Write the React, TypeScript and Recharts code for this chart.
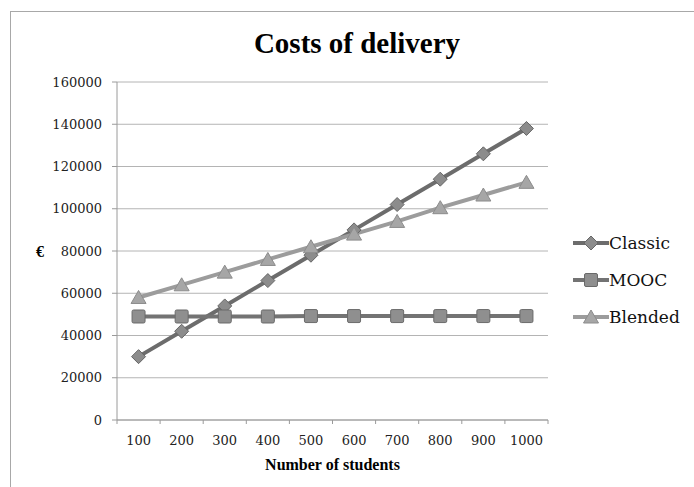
import { LineChart, Line, XAxis, YAxis, CartesianGrid, Legend } from 'recharts';

const students = ['100', '200', '300', '400', '500', '600', '700', '800', '900', '1000'];
const classic = [30000, 42000, 54000, 66000, 78000, 90000, 102000, 114000, 126000, 138000];
const mooc = [49000, 49000, 49000, 49000, 49200, 49200, 49200, 49200, 49200, 49200];
const blended = [58000, 64000, 70000, 76000, 82000, 88000, 94000, 100500, 106500, 112500];
const yTicks = [0, 20000, 40000, 60000, 80000, 100000, 120000, 140000, 160000];

const data = students.map((s, i) => ({
  students: s,
  Classic: classic[i],
  MOOC: mooc[i],
  Blended: blended[i],
}));

const BOLD_FONT = '"Liberation Serif", "Times New Roman", serif';
const FONT = '"DejaVu Serif", serif';
const AXIS = '#9a9a9a';
const BAND = 431 / students.length;

const series = [
  { key: 'Classic', stroke: '#6c6c6c', fill: '#8c8c8c', edge: '#666666', shape: 'diamond' },
  { key: 'MOOC', stroke: '#737373', fill: '#8f8f8f', edge: '#6a6a6a', shape: 'square' },
  { key: 'Blended', stroke: '#9c9c9c', fill: '#a6a6a6', edge: '#8c8c8c', shape: 'triangle' },
];

function Marker({ cx, cy, shape, fill, edge }: any) {
  if (cx == null || cy == null) return null;
  if (shape === 'diamond') {
    return (
      <polygon
        points={`${cx},${cy - 7} ${cx + 7},${cy} ${cx},${cy + 7} ${cx - 7},${cy}`}
        fill={fill}
        stroke={edge}
        strokeWidth={1}
      />
    );
  }
  if (shape === 'square') {
    return <rect x={cx - 6.5} y={cy - 6.5} width={13} height={13} rx={1.5} fill={fill} stroke={edge} strokeWidth={1} />;
  }
  return (
    <polygon
      points={`${cx},${cy - 7} ${cx + 7.5},${cy + 6} ${cx - 7.5},${cy + 6}`}
      fill={fill}
      stroke={edge}
      strokeWidth={1}
    />
  );
}

function XTick({ x, y, payload, index }: any) {
  const last = index === students.length - 1;
  return (
    <g>
      <line x1={x - BAND / 2} y1={y} x2={x - BAND / 2} y2={y + 4} stroke={AXIS} />
      {last && <line x1={x + BAND / 2} y1={y} x2={x + BAND / 2} y2={y + 4} stroke={AXIS} />}
      <text x={x} y={y + 25} textAnchor="middle" fontFamily={FONT} fontSize={13} fill="#222">
        {payload.value}
      </text>
    </g>
  );
}

function LegendBox() {
  return (
    <div style={{ fontFamily: FONT, fontSize: 17, color: '#111' }}>
      {series.map(s => (
        <div key={s.key} style={{ display: 'flex', alignItems: 'center', height: 37 }}>
          <svg width={36} height={16}>
            <line x1={0} y1={8} x2={36} y2={8} stroke={s.stroke} strokeWidth={4} strokeLinecap="round" />
            <Marker cx={18} cy={8} shape={s.shape} fill={s.fill} edge={s.edge} />
          </svg>
          <span>{s.key}</span>
        </div>
      ))}
    </div>
  );
}

export default function App() {
  return (
    <div style={{ position: 'absolute', left: 0, top: 0, width: 694, height: 487, background: '#fff', overflow: 'hidden' }}>
      <div
        style={{
          position: 'absolute',
          left: 10,
          top: 11,
          width: 720,
          height: 520,
          border: '1px solid #a8a8a8',
        }}
      />
      <div
        style={{
          position: 'absolute',
          left: 357,
          top: 29,
          transform: 'translateX(-50%)',
          fontFamily: BOLD_FONT,
          fontWeight: 'bold',
          fontSize: 29,
          lineHeight: '29px',
          whiteSpace: 'nowrap',
          color: '#000',
        }}
      >
        Costs of delivery
      </div>
      <LineChart
        width={694}
        height={487}
        data={data}
        margin={{ top: 82, right: 146, bottom: 0, left: 0 }}
        style={{ position: 'absolute', left: 0, top: 0 }}
      >
        <CartesianGrid vertical={false} stroke="#b4b4b4" />
        <XAxis
          dataKey="students"
          height={67}
          interval={0}
          padding={{ left: BAND / 2, right: BAND / 2 }}
          tickSize={0}
          tickMargin={0}
          tickLine={false}
          axisLine={{ stroke: AXIS }}
          tick={<XTick />}
          label={{
            value: 'Number of students',
            position: 'insideBottom',
            offset: 17,
            style: { fontFamily: BOLD_FONT, fontWeight: 'bold', fontSize: 16, fill: '#000' },
          }}
        />
        <YAxis
          width={117}
          domain={[0, 160000]}
          ticks={yTicks}
          interval={0}
          tickSize={5}
          tickMargin={10}
          axisLine={{ stroke: AXIS }}
          tickLine={{ stroke: AXIS }}
          tick={{ fontFamily: FONT, fontSize: 13, fill: '#222' }}
          label={{
            value: '€',
            position: 'insideLeft',
            offset: 36,
            style: { fontFamily: BOLD_FONT, fontWeight: 'bold', fontSize: 16, fill: '#000' },
          }}
        />
        {series.map(s => (
          <Line
            key={s.key}
            dataKey={s.key}
            type="linear"
            stroke={s.stroke}
            strokeWidth={4}
            isAnimationActive={false}
            activeDot={false}
            dot={(p: any) => <Marker key={`${s.key}-${p.index}`} cx={p.cx} cy={p.cy} shape={s.shape} fill={s.fill} edge={s.edge} />}
          />
        ))}
        <Legend
          layout="horizontal"
          verticalAlign="middle"
          align="center"
          content={<LegendBox />}
          wrapperStyle={{ position: 'absolute', left: 573, top: 224, width: 121 }}
        />
      </LineChart>
    </div>
  );
}
